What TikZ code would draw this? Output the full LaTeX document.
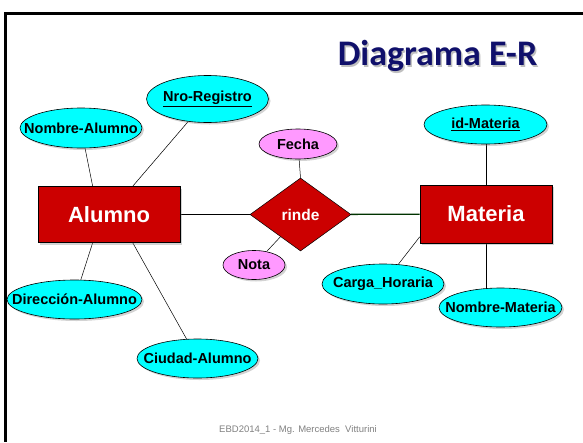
\documentclass[tikz,border=0pt]{standalone}
\usepackage{fontspec}
\setmainfont{Liberation Sans}
\newfontfamily\titlefont{Carlito}
\usetikzlibrary{shapes.geometric,shadows,backgrounds}

\definecolor{entred}{HTML}{CC0000}
\definecolor{attcyan}{HTML}{00FFFF}
\definecolor{relpink}{HTML}{FF99FF}
\definecolor{titleblue}{HTML}{10106B}
\definecolor{linkgreen}{HTML}{003300}

\newcommand{\nobox}[1]{\makebox[0pt]{#1}}

\tikzset{
  softshadow/.style={drop shadow={shadow xshift=2pt, shadow yshift=-2pt, opacity=0.35}},
  entity/.style={rectangle, draw=black, fill=entred, text=white, line width=0.6pt,
    font=\fontsize{22}{24}\selectfont\bfseries, minimum width=142pt, minimum height=56pt,
    inner sep=0pt, softshadow},
  relation/.style={diamond, draw=black, fill=entred, text=white, line width=0.5pt,
    font=\fontsize{15.5}{17}\selectfont\bfseries, aspect=1.38, minimum width=101pt,
    minimum height=73pt, inner sep=0pt},
  attrib/.style={ellipse, draw=black, fill=attcyan, line width=0.6pt,
    font=\fontsize{14.5}{16}\selectfont\bfseries, minimum width=122pt, minimum height=40pt,
    inner sep=0pt, softshadow},
  relattrib/.style={attrib, fill=relpink},
  titletext/.style={font=\titlefont\fontsize{36}{40}\selectfont\bfseries},
  link/.style={draw=black, line width=0.5pt}
}

\begin{document}
\begin{tikzpicture}[x=1pt, y=-1pt]
  \useasboundingbox (0,0) rectangle (583,442);
  % slide frame
  \draw[line width=3pt] (583,13.5) -- (5.5,13.5) -- (5.5,442);

  \node[titletext, text=black!25] (titleshadow) at (439,57.5) {Diagrama E-R};
  \node[titletext, text=titleblue] (title) at (437.5,56) {Diagrama E-R};

  % entities and relationship
  \node[entity] (alumno) at (109,214.5) {Alumno};
  \node[entity, minimum width=132pt, minimum height=58pt] (materia) at (486,214) {Materia};
  \node[relation] (rinde) at (300.5,214.5) {rinde};

  % attributes
  \node[attrib] (nomalu) at (81,128) {\nobox{Nombre-Alumno}};
  \node[attrib, minimum height=47pt] (nroreg) at (207.5,99) {\nobox{\underline{Nro-Registro}}};
  \node[attrib, minimum width=135pt, minimum height=39pt] (diralu) at (74.5,299.5) {\nobox{Dirección-Alumno}};
  \node[attrib, minimum width=121pt, minimum height=39pt] (ciualu) at (197.5,358.5) {\nobox{Ciudad-Alumno}};
  \node[attrib, minimum width=123pt, minimum height=39pt] (idmat) at (485.5,124.5) {\nobox{\underline{id-Materia}}};
  \node[attrib] (carhor) at (383,284) {\nobox{Carga\_Horaria}};
  \node[attrib, minimum width=123pt, minimum height=39pt] (nommat) at (500.5,307.5) {\nobox{Nombre-Materia}};
  \node[relattrib, minimum width=78pt, minimum height=30pt] (fecha) at (298,144) {\nobox{Fecha}};
  \node[relattrib, minimum width=62pt, minimum height=29pt] (nota) at (254,265) {\nobox{Nota}};

  % footer
  \node[text=gray, font=\fontsize{9.5}{11}\selectfont] (footer) at (298,430) {EBD2014\_1 - Mg. Mercedes\ \ Vitturini};

  \begin{scope}[on background layer]
    \draw[line width=1pt] (alumno) to (rinde);
    \draw[linkgreen, line width=1.3pt] (rinde) to (materia);
    \draw[link] (nomalu) to (alumno.120);
    \draw[link] (nroreg) to (alumno.50);
    \draw[link] (diralu) to (alumno.240);
    \draw[link] (ciualu) to (alumno.310);
    \draw[link] (fecha) to (rinde.north);
    \draw[link] (nota) to (rinde.228);
    \draw[link] (idmat.south -| materia.north) to (materia.north);
    \draw[link] (materia.south) to (materia.south |- nommat.center);
    \draw[link] (carhor) to (materia.199);
  \end{scope}
\end{tikzpicture}
\end{document}
